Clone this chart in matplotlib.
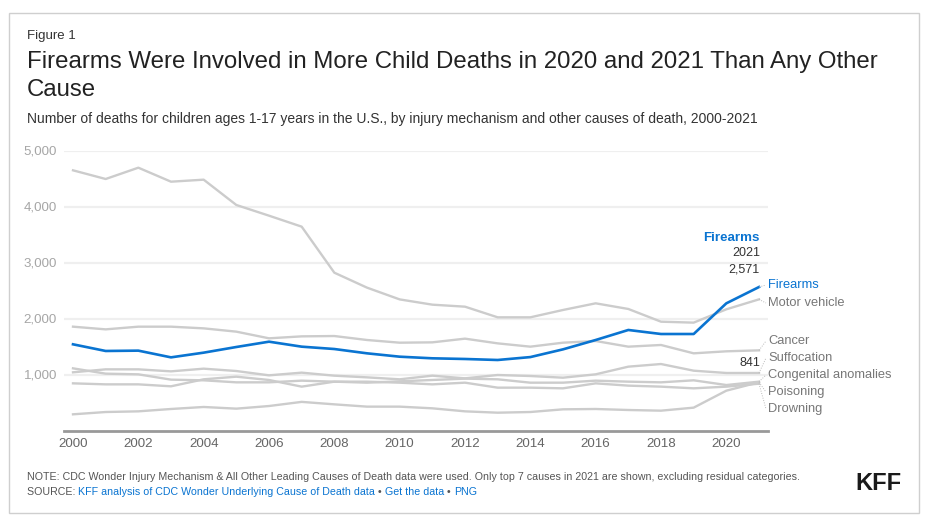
import matplotlib
matplotlib.use("Agg")
import matplotlib.pyplot as plt
from matplotlib.patches import Rectangle

years = list(range(2000, 2022))
firearms = [1548, 1429, 1435, 1315, 1399, 1500, 1595, 1506, 1464, 1387, 1327, 1298,
            1286, 1268, 1320, 1458, 1625, 1804, 1732, 1732, 2280, 2571]
motor_vehicle = [4655, 4500, 4702, 4452, 4488, 4036, 3845, 3649, 2827, 2560, 2350, 2256,
                 2220, 2030, 2030, 2161, 2280, 2179, 1952, 1935, 2173, 2351]
cancer = [1863, 1815, 1863, 1863, 1833, 1774, 1655, 1690, 1696, 1625, 1577, 1583,
          1649, 1565, 1506, 1577, 1607, 1506, 1536, 1387, 1423, 1440]
suffocation = [1048, 1101, 1101, 1065, 1113, 1071, 994, 1042, 988, 958, 923, 988,
               940, 1000, 982, 952, 1012, 1149, 1196, 1077, 1036, 1036]
congenital = [1119, 1024, 1012, 917, 905, 869, 869, 899, 881, 863, 887, 911,
              935, 923, 863, 863, 899, 881, 869, 905, 821, 881]
poisoning = [298, 339, 351, 393, 429, 399, 446, 520, 476, 435, 435, 405,
             351, 327, 339, 387, 393, 375, 363, 417, 720, 870]
drowning = [851, 833, 833, 798, 923, 970, 911, 792, 881, 881, 863, 833,
            863, 774, 774, 762, 851, 810, 792, 762, 792, 845]

series_names = ["Firearms", "Motor vehicle", "Cancer", "Suffocation",
                "Congenital anomalies", "Poisoning", "Drowning"]
series_values = [firearms, motor_vehicle, cancer, suffocation, congenital, poisoning, drowning]
y_ticks = [1000, 2000, 3000, 4000, 5000]
y_tick_labels = ["1,000", "2,000", "3,000", "4,000", "5,000"]
x_ticks = list(range(2000, 2021, 2))

W, H = 929, 525
BLUE = "#0a74d1"
GRAY_LINE = "#cccccc"
FONT = "Liberation Sans"
plt.rcParams["font.family"] = [FONT, "DejaVu Sans"]

fig = plt.figure(figsize=(W / 100, H / 100), dpi=100)


def fx(x):
    return x / W


def fy(y):
    return 1 - y / H


# outer border
fig.patches.append(Rectangle((fx(9), fy(513)), fx(919) - fx(9), fy(13) - fy(513),
                             transform=fig.transFigure, fill=False,
                             edgecolor="#cfcfcf", linewidth=1.0))

ax = fig.add_axes([fx(64), fy(431), fx(768) - fx(64), fy(151) - fy(431)])
x0, x1 = 2000 - 9 / 32.67, 2021 + 9 / 32.67
ax.set_xlim(x0, x1)
ax.set_ylim(0, 5000)

for yt in y_ticks:
    ax.axhline(yt, color="#efefef", linewidth=1.6, zorder=0)

for name, vals in zip(series_names, series_values):
    if name == "Firearms":
        continue
    ax.plot(years, vals, color=GRAY_LINE, linewidth=1.7, zorder=2, clip_on=False,
            solid_joinstyle="round")
ax.plot(years, firearms, color=BLUE, linewidth=1.9, zorder=3, clip_on=False,
        solid_joinstyle="round")

for s in ["top", "right", "left"]:
    ax.spines[s].set_visible(False)
ax.spines["bottom"].set_color("#999999")
ax.spines["bottom"].set_linewidth(2.0)

ax.set_yticks(y_ticks)
ax.set_yticklabels([])
ax.tick_params(axis="y", length=0)
for yt, lab in zip(y_ticks, y_tick_labels):
    ax.text(-(64 - 57) / (768 - 64), yt, lab, transform=ax.get_yaxis_transform(),
            ha="right", va="center", fontsize=9.6, color="#a6a6a6", fontfamily=FONT)

ax.set_xticks(x_ticks)
ax.set_xticklabels([str(x) for x in x_ticks], fontsize=9.6, color="#666666")
ax.tick_params(axis="x", length=0, pad=5)

# right labels
label_y = [285, 303, 341, 358, 375, 392, 409]
label_colors = [BLUE] + ["#777777"] * 6
for name, vals, ly, col in zip(series_names, series_values, label_y, label_colors):
    end_y_val = vals[-1]
    disp_end = ax.transData.transform((years[-1], end_y_val))
    ex, ey = disp_end[0], disp_end[1]
    fig.add_artist(plt.Line2D([fx(ex), fx(766)], [ey / H, fy(ly)],
                              transform=fig.transFigure, color="#bbbbbb",
                              linewidth=0.7, linestyle=(0, (1, 1.5))))
    fig.text(fx(768), fy(ly), name, ha="left", va="center", fontsize=9.3,
             color=col, fontfamily=FONT)

# annotation
fig.text(fx(760), fy(238), "Firearms", ha="right", va="center", fontsize=9.6,
         color=BLUE, fontweight="bold", fontfamily=FONT)
fig.text(fx(760), fy(253), "2021", ha="right", va="center", fontsize=9.0,
         color="#333333", fontfamily=FONT)
fig.text(fx(760), fy(269), "2,571", ha="right", va="center", fontsize=9.0,
         color="#333333", fontfamily=FONT)
fig.text(fx(760), fy(363), "841", ha="right", va="center", fontsize=9.0,
         color="#333333", fontfamily=FONT)

# titles
fig.text(fx(27), fy(36), "Figure 1", ha="left", va="center", fontsize=9.5,
         color="#333333", fontfamily=FONT)
fig.text(fx(27), fy(62), "Firearms Were Involved in More Child Deaths in 2020 and 2021 Than Any Other",
         ha="left", va="center", fontsize=17.25, color="#222222", fontfamily=FONT)
fig.text(fx(27), fy(90), "Cause", ha="left", va="center", fontsize=17.25,
         color="#222222", fontfamily=FONT)
fig.text(fx(27), fy(119),
         "Number of deaths for children ages 1-17 years in the U.S., by injury mechanism and other causes of death, 2000-2021",
         ha="left", va="center", fontsize=10.0, color="#333333", fontfamily=FONT)

# notes
fig.text(fx(27), fy(477),
         "NOTE: CDC Wonder Injury Mechanism & All Other Leading Causes of Death data were used. Only top 7 causes in 2021 are shown, excluding residual categories.",
         ha="left", va="center", fontsize=7.7, color="#555555", fontfamily=FONT)
src_parts = [("SOURCE: ", "#555555"),
             ("KFF analysis of CDC Wonder Underlying Cause of Death data", BLUE),
             (" \u2022 ", "#555555"), ("Get the data", BLUE),
             (" \u2022 ", "#555555"), ("PNG", BLUE)]
renderer = fig.canvas.get_renderer()
cx = 27
for txt, col in src_parts:
    t = fig.text(fx(cx), fy(492), txt, ha="left", va="center", fontsize=7.7,
                 color=col, fontfamily=FONT)
    bb = t.get_window_extent(renderer=renderer)
    cx += bb.width

fig.text(fx(902), fy(484), "KFF", ha="right", va="center", fontsize=17,
         fontweight="bold", color="#1a1a1a", fontfamily=FONT)

fig.savefig("out.png", dpi=100, facecolor="white")
